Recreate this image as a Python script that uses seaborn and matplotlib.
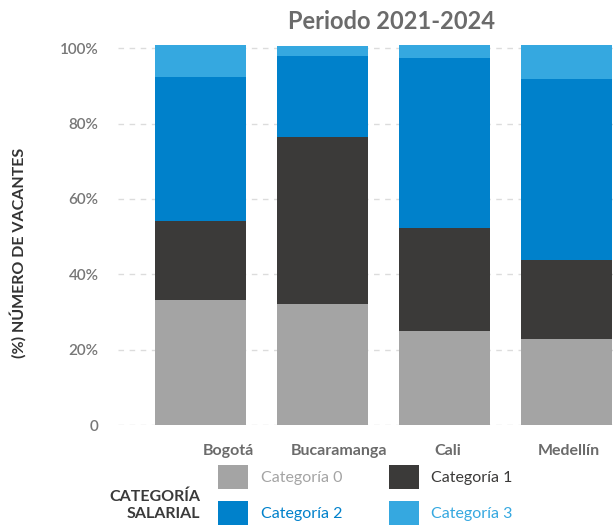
import matplotlib
matplotlib.use("Agg")
import matplotlib.pyplot as plt
from matplotlib.patches import Patch
from matplotlib.transforms import ScaledTranslation
import numpy as np
import pandas as pd
import seaborn as sns

# Share of vacancies (%) by salary category, per city
cities = ["Bogotá", "Bucaramanga", "Cali", "Medellín"]
categoria_0 = [33.2, 32.1, 25.0, 22.8]
categoria_1 = [21.0, 44.4, 27.3, 21.0]
categoria_2 = [38.2, 21.5, 45.1, 48.1]
categoria_3 = [8.5, 2.6, 3.5, 9.0]
series_names = ["Categoría 0", "Categoría 1", "Categoría 2", "Categoría 3"]
y_ticks = [0, 20, 40, 60, 80, 100]
y_tick_labels = ["0", "20%", "40%", "60%", "80%", "100%"]

colors = ["#a4a4a4", "#3b3a39", "#0081cb", "#35a8e0"]

sns.set_theme(style="white")
plt.rcParams["font.family"] = ["Lato", "DejaVu Sans"]

df = pd.DataFrame({"ciudad": cities, "c0": categoria_0, "c1": categoria_1,
                   "c2": categoria_2, "c3": categoria_3})
stack = df[["c0", "c1", "c2", "c3"]].cumsum(axis=1)

fig = plt.figure(figsize=(6.14, 5.27), dpi=100)
ax = fig.add_axes([0.1922, 0.1935, 0.8078, 0.7221])

# stacked bars: draw cumulative totals from the top segment down
for col, color in zip(["c3", "c2", "c1", "c0"], colors[::-1]):
    sns.barplot(x=df["ciudad"], y=stack[col], color=color, saturation=1,
                width=0.746, errorbar=None, ax=ax, zorder=3,
                linewidth=0, edgecolor="none")

ax.set_xlim(-0.68, 3.39)
ax.set_ylim(0, 101)
ax.set_yticks(y_ticks)
ax.set_yticklabels(y_tick_labels)
ax.set_xlabel("")
ax.set_ylabel("")
for s in ax.spines.values():
    s.set_visible(False)
ax.grid(False)
for t in y_ticks:
    ax.axhline(t, color="#dcdcdc", lw=1.0, ls=(0, (4, 4)), zorder=1)

ax.tick_params(axis="y", length=0, pad=14, labelsize=11, labelcolor="#777777")
ax.tick_params(axis="x", length=0, pad=14, labelsize=11.5, labelcolor="#6b6b6b")
for lab in ax.get_xticklabels():
    lab.set_fontweight("bold")
for lab in ax.get_yticklabels():
    lab.set_fontweight("semibold")

# nudge city labels sideways
offsets_px = [27.5, 16, 3.5, 2]
for lab, dx in zip(ax.get_xticklabels(), offsets_px):
    lab.set_transform(lab.get_transform() + ScaledTranslation(dx / 100, 0, fig.dpi_scale_trans))

fig.text(0.638, 0.96, "Periodo 2021-2024", ha="center", va="center",
         fontsize=17, fontweight="bold", color="#6b6b6b")
fig.text(0.030, 0.52, "(%) NÚMERO DE VACANTES", rotation=90, ha="center",
         va="center", fontsize=11.5, fontweight="bold", color="#333333")

handles = [Patch(facecolor=c, edgecolor="none") for c in colors]
order = [0, 2, 1, 3]
leg = fig.legend([handles[i] for i in order], [series_names[i] for i in order],
                 ncol=2, loc="upper left", bbox_to_anchor=(0.355, 0.117),
                 frameon=False, fontsize=11.5, handlelength=1.88, handleheight=1.88,
                 handletextpad=0.8, columnspacing=2.9, labelspacing=0.78,
                 borderpad=0, borderaxespad=0)
for txt, i in zip(leg.get_texts(), order):
    txt.set_color(colors[i])
fig.text(0.326, 0.041, "CATEGORÍA\nSALARIAL", ha="right", va="center",
         fontsize=11.5, fontweight="bold", color="#3a3a3a", linespacing=1.3)

fig.savefig("out.png", dpi=100)
